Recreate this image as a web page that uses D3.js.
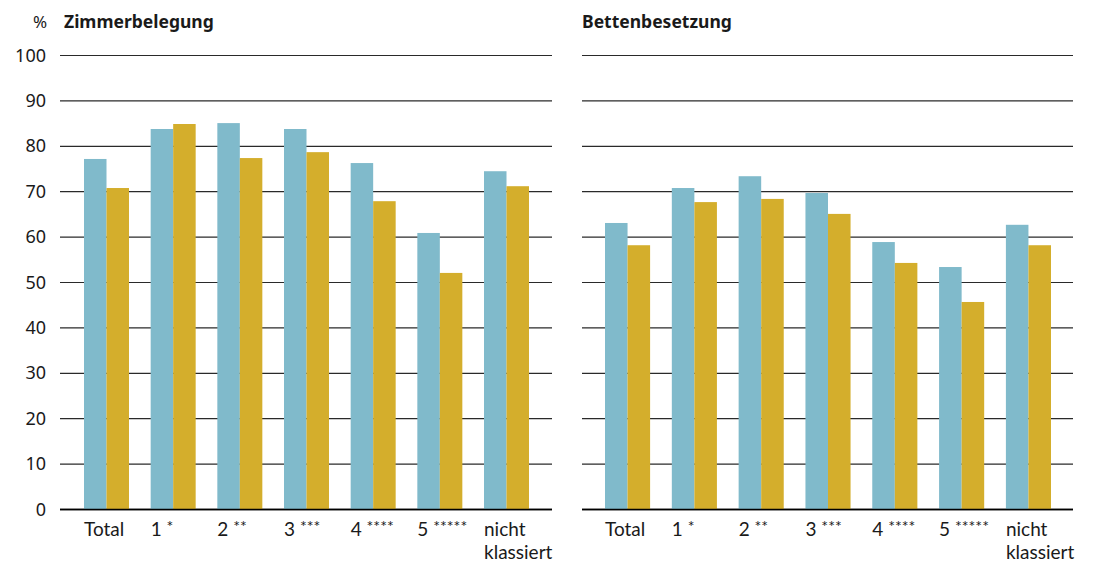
<!DOCTYPE html>
<html><head><meta charset="utf-8">
<script src="https://cdn.jsdelivr.net/npm/d3@7"></script>
<style>
body{margin:0;background:#fff;}
text{font-family:"Noto Sans","Open Sans",sans-serif;fill:#1a1a1a;}
text.cat{font-family:Lato,"Noto Sans",sans-serif;}
</style></head>
<body><svg id="c" width="1094" height="562"></svg>
<script>
const categories = ["Total","1 *","2 **","3 ***","4 ****","5 *****","nicht|klassiert"];
const zimmerA = [77.1, 83.7, 85.0, 83.7, 76.2, 60.8, 74.4];
const zimmerB = [70.7, 84.8, 77.3, 78.6, 67.8, 52.0, 71.1];
const bettenA = [63.0, 70.7, 73.3, 69.6, 58.8, 53.3, 62.6];
const bettenB = [58.1, 67.6, 68.3, 65.0, 54.2, 45.6, 58.1];
const yTicks = [0,10,20,30,40,50,60,70,80,90,100];
const colors = ["#80bacb","#d4ae2c"];

const svg = d3.select("#c");
const y = d3.scaleLinear().domain([0,100]).range([509,55]);

function panel(title, a, b, gx0, gx1, bx0, bx1, showAxis){
  const g = svg.append("g");
  g.selectAll("line.grid").data(yTicks).join("line")
    .attr("x1",gx0).attr("x2",gx1)
    .attr("y1",d=>y(d)+0.5).attr("y2",d=>y(d)+0.5)
    .attr("stroke", d=> d===0 ? "#000" : "#2a2a2a")
    .attr("stroke-width", d=> d===0 ? 1.6 : 1.2);
  const x = d3.scaleBand().domain(categories).range([bx0,bx1]).paddingInner(0.325).paddingOuter(0);
  const xs = d3.scaleBand().domain([0,1]).range([0,x.bandwidth()]);
  const data = categories.map((c,i)=>({c, v:[a[i],b[i]]}));
  const grp = g.selectAll("g.cat").data(data).join("g").attr("transform",d=>`translate(${x(d.c)},0)`);
  grp.selectAll("rect").data(d=>d.v.map((v,k)=>({v,k}))).join("rect")
    .attr("x",d=>xs(d.k)).attr("width",xs.bandwidth())
    .attr("y",d=>y(d.v)).attr("height",d=>y(0)-y(d.v))
    .attr("fill",d=>colors[d.k]);
  g.append("line").attr("x1",gx0).attr("x2",gx1).attr("y1",y(0)+0.5).attr("y2",y(0)+0.5)
    .attr("stroke","#000").attr("stroke-width",1.6);
  grp.each(function(d){
    const sel = d3.select(this);
    d.c.split("|").forEach((s,i)=>{
      const t = sel.append("text").attr("class","cat").attr("x",0).attr("y",536 + i*22.5).attr("font-size",19);
      const m = s.match(/^(.*?)(\*+)$/);
      if(m){
        t.append("tspan").text(m[1]);
        t.append("tspan").attr("font-size",16).attr("dy",-4).text(m[2]);
      } else {
        t.text(s);
      }
    });
  });
  if(showAxis){
    g.selectAll("text.tick").data(yTicks).join("text")
      .attr("x",46).attr("y",d=>y(d)+6.5).attr("text-anchor","end").attr("font-size",18).text(d=>d);
  }
  g.append("text").attr("x", showAxis?64:gx0).attr("y",28).attr("font-size",17.5).attr("font-weight","bold").text(title);
}
svg.append("text").attr("x",33).attr("y",28).attr("font-size",17).text("%");
panel("Zimmerbelegung", zimmerA, zimmerB, 60, 552, 84, 529, true);
panel("Bettenbesetzung", bettenA, bettenB, 582, 1073, 605, 1051, false);
</script></body></html>
